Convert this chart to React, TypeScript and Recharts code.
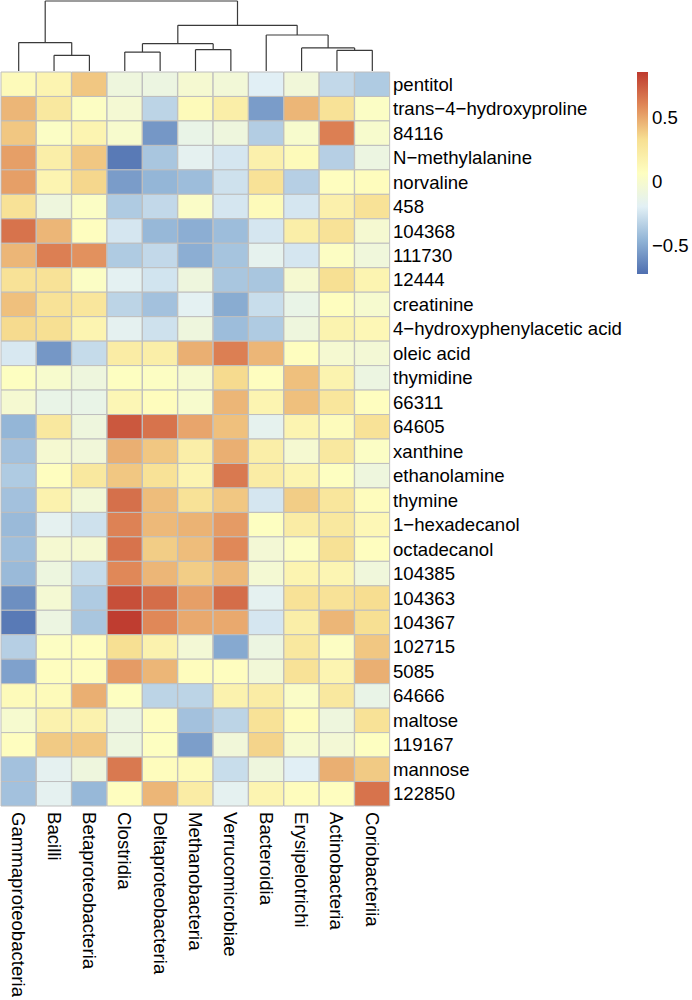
import React from "react";
import { BarChart, Bar, Cell, XAxis, YAxis, ComposedChart, ReferenceLine, Scatter } from "recharts";

const COLUMNS = [
  "Gammaproteobacteria", "Bacilli", "Betaproteobacteria", "Clostridia", "Deltaproteobacteria",
  "Methanobacteria", "Verrucomicrobiae", "Bacteroidia", "Erysipelotrichi", "Actinobacteria", "Coriobacteriia",
];

const ROWS = [
  "pentitol", "trans\u22124\u2212hydroxyproline", "84116", "N\u2212methylalanine", "norvaline", "458",
  "104368", "111730", "12444", "creatinine", "4\u2212hydroxyphenylacetic acid", "oleic acid",
  "thymidine", "66311", "64605", "xanthine", "ethanolamine", "thymine", "1\u2212hexadecanol",
  "octadecanol", "104385", "104363", "104367", "102715", "5085", "64666", "maltose", "119167",
  "mannose", "122850",
];

const VALUES: number[][] = [
  [0.1, 0.15, 0.4, -0.08, -0.1, -0.02, -0.05, -0.2, -0.06, -0.3, -0.36],
  [0.45, 0.25, 0.05, -0.03, -0.32, 0.1, 0.2, -0.55, 0.45, 0.3, 0.04],
  [0.4, 0.04, 0.15, 0.0, -0.57, -0.13, -0.08, -0.35, 0.0, 0.62, 0.0],
  [0.52, 0.2, 0.4, -0.68, -0.38, -0.17, -0.24, 0.18, 0.1, -0.34, -0.1],
  [0.52, 0.15, 0.35, -0.55, -0.45, -0.42, -0.26, 0.3, -0.34, 0.07, 0.08],
  [0.3, -0.08, 0.04, -0.36, -0.3, 0.03, -0.24, 0.1, -0.24, 0.18, 0.3],
  [0.66, 0.45, 0.07, -0.24, -0.44, -0.48, -0.42, -0.24, 0.2, 0.3, -0.02],
  [0.45, 0.62, 0.56, -0.36, -0.3, -0.48, -0.39, -0.16, -0.24, 0.05, -0.07],
  [0.3, 0.3, 0.04, -0.18, -0.25, -0.08, -0.38, -0.38, -0.02, 0.32, 0.15],
  [0.42, 0.3, 0.27, -0.32, -0.4, -0.18, -0.49, -0.28, -0.13, 0.07, -0.01],
  [0.34, 0.32, 0.15, -0.17, -0.26, -0.08, -0.42, -0.36, -0.08, 0.16, 0.12],
  [-0.23, -0.57, -0.29, 0.22, 0.2, 0.47, 0.62, 0.45, 0.07, -0.02, -0.04],
  [0.06, 0.0, -0.08, 0.06, 0.05, -0.01, 0.34, 0.07, 0.42, 0.16, -0.1],
  [-0.02, -0.13, -0.13, 0.13, 0.08, 0.0, 0.45, 0.15, 0.42, 0.27, 0.07],
  [-0.45, 0.25, -0.08, 0.75, 0.66, 0.5, 0.42, -0.16, 0.15, 0.09, 0.3],
  [-0.4, -0.02, -0.06, 0.47, 0.4, 0.2, 0.47, 0.2, -0.02, 0.25, 0.04],
  [-0.36, 0.07, 0.25, 0.4, 0.3, 0.15, 0.64, 0.22, 0.15, 0.06, -0.08],
  [-0.4, 0.17, -0.05, 0.67, 0.43, 0.3, 0.4, -0.24, 0.38, 0.27, 0.08],
  [-0.43, -0.17, -0.26, 0.61, 0.44, 0.46, 0.53, 0.06, 0.22, 0.25, 0.12],
  [-0.41, -0.02, -0.02, 0.66, 0.38, 0.43, 0.59, -0.04, 0.05, 0.31, 0.07],
  [-0.43, -0.09, -0.29, 0.59, 0.45, 0.38, 0.44, -0.03, 0.15, 0.14, -0.07],
  [-0.6, -0.03, -0.36, 0.78, 0.68, 0.52, 0.68, -0.17, 0.3, 0.3, 0.33],
  [-0.68, -0.1, -0.38, 0.84, 0.59, 0.49, 0.49, -0.24, 0.2, 0.45, 0.32],
  [-0.34, 0.05, 0.07, 0.32, 0.17, -0.04, -0.5, -0.1, 0.25, 0.05, 0.4],
  [-0.53, 0.07, 0.07, 0.53, 0.45, 0.08, 0.07, -0.05, 0.3, 0.15, 0.47],
  [0.1, 0.1, 0.47, 0.06, -0.32, -0.32, 0.17, 0.22, 0.03, 0.25, -0.13],
  [-0.01, 0.17, 0.17, -0.1, 0.07, -0.4, -0.32, 0.3, 0.08, -0.08, 0.3],
  [0.07, 0.39, 0.4, -0.09, 0.06, -0.54, -0.06, 0.36, -0.01, -0.04, 0.06],
  [-0.4, -0.17, -0.08, 0.64, 0.08, 0.1, -0.28, -0.08, -0.2, 0.47, 0.39],
  [-0.4, -0.17, -0.44, 0.07, 0.45, 0.22, -0.17, 0.15, 0.08, 0.07, 0.66],
];

// Column dendrogram: leaves 0..10, internal nodes numbered 11.. in merge order
const MERGE_LEFT = [1, 0, 3, 5, 13, 9, 8, 7, 15, 12];
const MERGE_RIGHT = [2, 11, 4, 6, 14, 10, 16, 17, 18, 19];
const MERGE_HEIGHT = [0.224, 0.406, 0.271, 0.306, 0.391, 0.296, 0.329, 0.514, 0.653, 1.0];

const COLOR_MIN = -0.72;
const COLOR_MAX = 0.85;
const LEGEND_TICKS = [-0.5, 0, 0.5];
const PALETTE = ["#4F6FB0", "#91B4D6", "#E2F0F5", "#FEFEC0", "#F7DF92", "#E08858", "#BE3A2E"];

const FONT = "'Liberation Sans', Arial, Helvetica, sans-serif";
const FONT_SIZE = 18.6;

function hexToRgb(h: string) {
  const n = parseInt(h.slice(1), 16);
  return [(n >> 16) & 255, (n >> 8) & 255, n & 255];
}
function colorFor(v: number) {
  let f = (v - COLOR_MIN) / (COLOR_MAX - COLOR_MIN);
  f = Math.max(0, Math.min(1, f));
  const pos = f * (PALETTE.length - 1);
  const i = Math.min(PALETTE.length - 2, Math.floor(pos));
  const t = pos - i;
  const a = hexToRgb(PALETTE[i]);
  const b = hexToRgb(PALETTE[i + 1]);
  const c = a.map((x, k) => Math.round(x + (b[k] - x) * t));
  return `rgb(${c[0]},${c[1]},${c[2]})`;
}

const heatData = COLUMNS.map((name) => {
  const o: any = { name };
  ROWS.forEach((_, r) => (o[`r${r}`] = 1));
  return o;
});

// dendrogram segments
const nodeX: number[] = COLUMNS.map((_, i) => i + 0.5);
const nodeH: number[] = COLUMNS.map(() => 0);
const segments: { x1: number; y1: number; x2: number; y2: number }[] = [];
MERGE_LEFT.forEach((l, k) => {
  const r = MERGE_RIGHT[k];
  const h = MERGE_HEIGHT[k];
  segments.push({ x1: nodeX[l], y1: nodeH[l], x2: nodeX[l], y2: h });
  segments.push({ x1: nodeX[r], y1: nodeH[r], x2: nodeX[r], y2: h });
  segments.push({ x1: nodeX[l], y1: h, x2: nodeX[r], y2: h });
  nodeX.push((nodeX[l] + nodeX[r]) / 2);
  nodeH.push(h);
});
const leafData = COLUMNS.map((_, i) => ({ x: i + 0.5, y: 0 }));

const RowTick = (props: any) => {
  const { y, payload } = props;
  const idx = Math.floor(payload.value);
  return (
    <text x={393} y={y} dominantBaseline="central" textAnchor="start" fontFamily={FONT} fontSize={FONT_SIZE} fill="#000">
      {ROWS[idx]}
    </text>
  );
};

const ColTick = (props: any) => {
  const { x, payload } = props;
  const y0 = 812;
  return (
    <text
      x={x}
      y={y0}
      transform={`rotate(90, ${x}, ${y0})`}
      dominantBaseline="central"
      textAnchor="start"
      fontFamily={FONT}
      fontSize={FONT_SIZE}
      fill="#000"
    >
      {payload.value}
    </text>
  );
};

const LegendTick = (props: any) => {
  const { y, payload } = props;
  const v = payload.value;
  const label = v < 0 ? `\u2212${Math.abs(v)}` : `${v}`;
  return (
    <text x={22} y={y} dominantBaseline="central" textAnchor="start" fontFamily={FONT} fontSize={FONT_SIZE} fill="#000">
      {label}
    </text>
  );
};

export default function App() {
  return (
    <div style={{ position: "absolute", left: 0, top: 0, width: 692, height: 1000, background: "#fff" }}>
      <svg width={0} height={0} style={{ position: "absolute" }}>
        <defs>
          <linearGradient id="legendGrad" x1="0" y1="0" x2="0" y2="1">
            {PALETTE.slice()
              .reverse()
              .map((c, i) => (
                <stop key={i} offset={`${(i / (PALETTE.length - 1)) * 100}%`} stopColor={c} />
              ))}
          </linearGradient>
        </defs>
      </svg>

      {/* Dendrogram */}
      <div style={{ position: "absolute", left: 0, top: 0 }}>
        <ComposedChart width={692} height={72} data={leafData} margin={{ top: 1, right: 302, bottom: 1, left: 1 }}>
          <XAxis type="number" dataKey="x" domain={[0, 11]} hide />
          <YAxis type="number" dataKey="y" domain={[0, 1]} hide width={0} />
          <Scatter data={leafData} dataKey="y" isAnimationActive={false} shape={() => <g />} />
          {segments.map((s, i) => (
            <ReferenceLine
              key={i}
              segment={[
                { x: s.x1, y: s.y1 },
                { x: s.x2, y: s.y2 },
              ]}
              stroke="#3a3a3a"
              strokeWidth={1.2}
              ifOverflow="visible"
            />
          ))}
        </ComposedChart>
      </div>

      {/* Heatmap */}
      <div style={{ position: "absolute", left: 0, top: 0 }}>
        <BarChart
          width={692}
          height={1000}
          data={heatData}
          margin={{ top: 72, right: 2, bottom: 4, left: 1 }}
          barCategoryGap={0}
          barGap={0}
        >
          <XAxis
            dataKey="name"
            type="category"
            interval={0}
            height={190}
            tickLine={false}
            axisLine={false}
            tick={<ColTick />}
          />
          <YAxis
            type="number"
            orientation="right"
            domain={[0, ROWS.length]}
            reversed
            ticks={ROWS.map((_, i) => i + 0.5)}
            interval={0}
            width={300}
            tickLine={false}
            axisLine={false}
            tick={<RowTick />}
          />
          {ROWS.map((_, r) => (
            <Bar key={r} dataKey={`r${r}`} stackId="h" isAnimationActive={false} stroke="#BEBEBE" strokeWidth={1}>
              {COLUMNS.map((__, c) => (
                <Cell key={c} fill={colorFor(VALUES[r][c])} />
              ))}
            </Bar>
          ))}
        </BarChart>
      </div>

      {/* Color legend */}
      <div style={{ position: "absolute", left: 630, top: 60 }}>
        <BarChart
          width={62}
          height={230}
          data={[{ name: "scale", range: [COLOR_MIN, COLOR_MAX] }]}
          margin={{ top: 12, right: 0, bottom: 16, left: 7 }}
          barCategoryGap={0}
        >
          <XAxis dataKey="name" hide />
          <YAxis
            type="number"
            orientation="right"
            domain={[COLOR_MIN, COLOR_MAX]}
            ticks={LEGEND_TICKS}
            width={44}
            tickLine={false}
            axisLine={false}
            tick={<LegendTick />}
          />
          <Bar dataKey="range" fill="url(#legendGrad)" isAnimationActive={false} />
        </BarChart>
      </div>
    </div>
  );
}
